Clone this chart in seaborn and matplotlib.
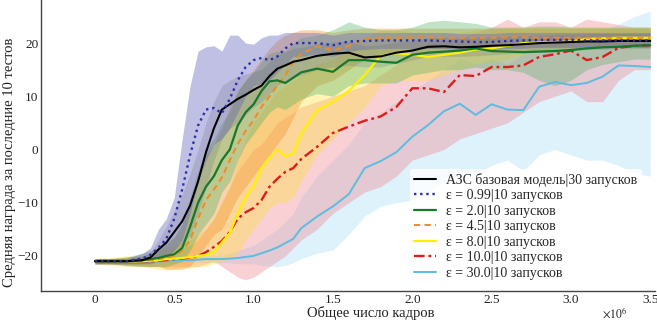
import numpy as np
import pandas as pd
import matplotlib
matplotlib.use("Agg")
import matplotlib.pyplot as plt
import seaborn as sns

# ---------------- data (x in millions of frames) ----------------
frames = [0, 0.1, 0.2, 0.3, 0.35, 0.4, 0.45, 0.5, 0.55, 0.6, 0.65, 0.7, 0.75, 0.8, 0.85,
          0.9, 0.95, 1.0, 1.05, 1.1, 1.15, 1.2, 1.25, 1.3, 1.4, 1.5, 1.6, 1.7, 1.8, 1.9,
          2.0, 2.1, 2.2, 2.3, 2.4, 2.5, 2.6, 2.7, 2.8, 2.9, 3.0, 3.1, 3.2, 3.3, 3.4, 3.5]

labels = ["АЗС базовая модель|30 запусков",
          "ε = 0.99|10 запусков",
          "ε = 2.0|10 запусков",
          "ε = 4.5|10 запусков",
          "ε = 8.0|10 запусков",
          "ε = 10.0|10 запусков",
          "ε = 30.0|10 запусков"]

base_mean = [-21, -21, -21, -20.8, -20.3, -18.8, -17.5, -15.5, -13.5, -10.5, -6, -0.5, 4, 7.5, 8.5,
             9.5, 10.3, 11.2, 12, 13.8, 15.2, 15.8, 16.5, 16.8, 17.6, 18, 18.2, 17.3, 17.5, 18.2,
             18.6, 19.3, 19.4, 19.2, 19.3, 19.5, 19.6, 19.8, 20, 20.1, 20.2, 20.3, 20.3, 20.4, 20.4, 20.4]
base_lo = [-21.5, -21.5, -21.5, -21.5, -21.3, -20.5, -20, -19, -18, -16, -12, -7, -2, 2, 4,
           5, 6.5, 8, 9, 10.5, 12, 13, 13.5, 14, 15, 15.5, 15.8, 15.5, 15.5, 16.2,
           16.8, 17.5, 17.5, 17.5, 17.6, 17.8, 18, 18.2, 18.4, 18.5, 18.6, 18.8, 18.8, 19, 19, 19]
base_hi = [-20.5, -20.5, -20.5, -20, -19.3, -17, -14.5, -11.5, -8.5, -4.5, 0, 5, 9, 12, 13,
           13.8, 14.2, 14.6, 15, 16.5, 17.8, 18.3, 19, 19.2, 19.8, 20.2, 20.4, 19.5, 19.7, 20.2,
           20.5, 21, 21.1, 21, 21.1, 21.2, 21.3, 21.4, 21.5, 21.6, 21.7, 21.8, 21.8, 21.8, 21.8, 21.8]

e099_mean = [-21, -21, -21, -20.5, -19.8, -18.5, -16.8, -13, -7.5, -1, 4.5, 7.5, 7.8, 6.8, 9.5,
             13, 15.5, 16.8, 17.2, 16.8, 17.5, 19, 20, 20, 20, 19.6, 20.3, 20.4, 20.5, 20.5,
             20.5, 20.5, 20.4, 20.3, 20.2, 20.2, 20.4, 20.5, 20.6, 20.6, 20.6, 20.5, 20.5, 20.5, 20.5, 20.5]
e099_lo = [-21.5, -21.5, -21.5, -21.5, -21.5, -21, -20.5, -19, -17, -12, -6, -2, 1, 2, 4,
           7, 10, 12, 12.5, 13, 14.5, 16, 17.5, 17.5, 18, 17.5, 18.5, 18.8, 19, 19,
           19, 19, 19, 18.8, 18.8, 18.8, 19, 19, 19.2, 19.2, 19.2, 19.2, 19.2, 19.2, 19.2, 19.2]
e099_hi = [-20.5, -20.5, -20.5, -19.5, -18.5, -15, -13, -9, 2, 12, 18.5, 19.3, 19.5, 18.5, 21.5,
           21.5, 20, 19.8, 21, 21.5, 21.5, 22, 22, 22, 22, 21.5, 22, 22, 22, 22,
           22, 22, 22, 21.8, 21.8, 21.8, 22, 22, 22, 22, 22, 22, 22, 22, 22, 22]

e20_mean = [-21, -21, -21, -20.8, -20.6, -20.4, -20, -19.7, -18.5, -14.5, -10, -7, -5, -2, 0,
            4.5, 7, 8.5, 11, 12.8, 13, 12.5, 13.5, 14.5, 15.2, 14.6, 16.8, 16.8, 16.5, 16.3,
            17.8, 18.2, 18.4, 18.6, 19, 18.5, 18.4, 18.3, 18.4, 18.5, 18.7, 19, 19.2, 19.3, 19.5, 19.6]
e20_lo = [-21.5, -21.5, -21.8, -22, -22, -22, -22, -21.5, -21, -19, -16, -14, -12, -8, -6,
          -2, 1, 3, 5, 7, 8, 7.5, 8.5, 9.5, 10.5, 10, 12, 12.5, 12.5, 12.5,
          14, 14.5, 15, 15, 15.5, 15, 15, 14.5, 13, 12, 13, 15, 16, 16.5, 17, 17]
e20_hi = [-20.5, -20.5, -20.2, -19.5, -19, -18.5, -17.5, -16.5, -14, -9, -4, 0, 2, 5, 7,
          11, 13, 14.5, 16.5, 18, 18.5, 18.5, 20, 21, 21.5, 22.5, 24, 23, 22.5, 22.5,
          23, 24, 24.3, 24, 23.7, 23, 23, 23, 23.2, 23.2, 23, 23, 23, 23, 23, 23]

e45_mean = [-21, -21, -21, -20.9, -20.8, -20.6, -20.4, -20, -19, -17, -13, -9.5, -7.5, -5.3, -2,
            1, 3.5, 5.5, 8, 10, 12, 14, 16.5, 18, 19.4, 18.6, 19.5, 20.8, 21, 21,
            21.1, 21.1, 21, 21, 21, 21, 21.1, 21.1, 21, 21, 21, 21, 21, 21, 21, 21]
e45_lo = [-21.5, -21.5, -21.8, -22, -22, -22, -22.5, -22.5, -22.5, -22, -20, -18, -16, -15, -12,
          -9, -7, -5, -3, -1, 1, 3, 6, 9, 12, 13, 15, 17, 18, 18.5,
          19, 19, 19, 19, 19, 19.2, 19.2, 19.2, 19.2, 19.2, 19.2, 19.2, 19.2, 19.2, 19.2, 19.2]
e45_hi = [-20.5, -20.5, -20.2, -20, -19.5, -19, -18, -16.5, -14, -10, -5, -1, 1, 4, 8,
          11, 13, 15, 17, 19, 20.5, 21.5, 22, 22.5, 22.5, 22, 22.5, 22.8, 22.8, 22.8,
          22.8, 22.8, 22.8, 22.8, 22.8, 22.8, 22.8, 22.8, 22.8, 22.8, 22.8, 22.8, 22.8, 22.8, 22.8, 22.8]

e80_mean = [-21, -21, -21, -21, -20.9, -20.8, -20.6, -20.5, -20.4, -20.2, -20, -19.8, -19.3, -17.5, -15.7,
            -12, -9, -6.8, -3.5, -1.5, 0, -1.3, -0.7, 3, 7.4, 9, 11, 14, 17.6, 18.1,
            17.8, 17.4, 17.8, 18.2, 18.8, 19, 19.5, 20, 20.1, 20.2, 20.3, 20.8, 20.9, 21, 21, 21]
e80_lo = [-21.5, -21.8, -22, -22, -22.3, -22.5, -22.6, -22.5, -22.3, -22.3, -22, -22, -21.5, -21, -20.5,
          -19.5, -17, -15, -13, -11, -10, -10, -9, -6, -1, 2, 5, 8, 12, 13,
          13, 13, 14, 15, 16, 16.5, 17, 18, 18.5, 18.5, 19, 19.5, 19.5, 19.5, 19.5, 19.5]
e80_hi = [-20.5, -20.3, -20, -20, -19.5, -19, -18.5, -18, -17.5, -17, -16, -15, -13, -10, -7,
          -2, 2, 5, 7, 9, 11, 12, 13, 14, 16, 17, 19, 21, 22.5, 22.5,
          22, 22, 22, 22, 22.5, 22.5, 23, 23, 23, 23, 23, 23, 23, 23, 23, 23]

e100_mean = [-21, -21, -21, -21, -21, -20.9, -20.8, -20.6, -20.5, -20.3, -20, -19.3, -18.3, -17.2, -15.5,
             -13, -11.8, -11, -9.5, -7, -5.5, -4.2, -3.5, -1.8, 0.5, 3.1, 4.3, 5.4, 6.2, 8,
             11.5, 11.5, 10.8, 14, 13.8, 15.5, 15.5, 15.8, 17.4, 17.9, 18.6, 16.8, 17.4, 19.1, 19.5, 19.6]
e100_lo = [-21.5, -21.5, -21.5, -21.8, -22, -22, -22, -22, -22, -22, -22, -21.5, -21, -22, -23,
           -24, -24.5, -24, -23, -22, -21, -20, -18.5, -17, -15, -12, -10, -8, -7, -5,
           -2, -1, 0, 2, 3, 4, 5, 7, 9, 10, 11, 9, 9, 13, 15, 15]
e100_hi = [-20.5, -20.5, -20.5, -20.2, -20, -19.8, -19.5, -19, -18.5, -18, -17, -15, -13, -10, -7,
           -4, -2, 0, 1, 3, 5, 6, 7, 8, 9, 10, 11, 12, 14, 16,
           19, 20, 20.5, 21, 22, 23, 24.5, 23, 24, 24, 23, 24.5, 24, 23.5, 23, 23]

e300_mean = [-21, -21, -21, -21, -21, -21, -20.9, -20.9, -20.8, -20.8, -20.7, -20.6, -20.6, -20.6, -20.5,
             -20.4, -20.2, -20, -19.5, -19, -18.4, -17.6, -16.8, -14.8, -12.6, -10.7, -8.4, -3.5, -2.2, -0.5,
             2.4, 4.6, 7.2, 8.6, 6.5, 8.5, 7.5, 7.4, 11.8, 12.7, 12.1, 12.5, 13.7, 15.8, 15.7, 15.5]
e300_lo = [-21.3, -21.3, -21.3, -21.3, -21.3, -21.3, -21.3, -21.3, -21.3, -21.3, -21.3, -21.3, -21.3, -21.3, -21.3,
           -21.5, -21.5, -21.5, -21.8, -22, -22, -21.8, -21.3, -20.5, -19.5, -18.9, -16, -12.5, -10.7, -10,
           -9.5, -8, -6, -5, -4.5, -3, -2, -4, -1, 0, -1, -2, -2, -3, -4.5, -5]
e300_hi = [-20.7, -20.7, -20.7, -20.7, -20.7, -20.7, -20.5, -20.5, -20.3, -20.3, -20.1, -20, -20, -19.8, -19.5,
           -19, -18.5, -18, -17, -16, -15, -13.5, -12, -9, -5, -2, 1, 5, 7, 9,
           11, 13, 15, 17, 16, 17, 16, 18, 20, 21, 21, 21.5, 22.5, 23.5, 25, 26]

x_ticks = [0, 0.5, 1.0, 1.5, 2.0, 2.5, 3.0, 3.5]
x_ticklabels = ["0", "0.5", "1.0", "1.5", "2.0", "2.5", "3.0", "3.5"]
y_ticks = [-20, -10, 0, 10, 20]
y_ticklabels = ["\u221220", "\u221210", "0", "10", "20"]

means = [base_mean, e099_mean, e20_mean, e45_mean, e80_mean, e100_mean, e300_mean]
los = [base_lo, e099_lo, e20_lo, e45_lo, e80_lo, e100_lo, e300_lo]
his = [base_hi, e099_hi, e20_hi, e45_hi, e80_hi, e100_hi, e300_hi]

# ---------------- style ----------------
line_colors = ["#000000", "#2e2eaa", "#17782c", "#f08c1e", "#fff000", "#dd1c1c", "#5bbde0"]
band_colors = ["#606078", "#6a6ac0", "#4fb060", "#f39a38", "#ffe030", "#f08890", "#bfe6f8"]
band_alpha = [0.2, 0.42, 0.35, 0.42, 0.35, 0.38, 0.5]
line_styles = ["-", (0, (1, 1.6)), "-", (0, (3.2, 2.2)), "-", (0, (4.5, 1.6, 1.2, 1.6)), "-"]
line_widths = [1.5, 1.7, 1.6, 1.4, 1.6, 1.7, 1.4]

sns.set_theme(style="white")
plt.rcParams["font.family"] = ["Liberation Serif", "DejaVu Serif"]
plt.rcParams["mathtext.fontset"] = "stix"

fig = plt.figure(figsize=(6.57, 3.22), dpi=100)
ax = fig.add_axes([41 / 657, 31 / 322, (655 - 41) / 657, 291 / 322])

# bands
for i in [6, 5, 4, 3, 2, 1, 0]:
    ax.fill_between(frames, los[i], his[i], color=band_colors[i], alpha=band_alpha[i], linewidth=0)

# lines
order = [6, 5, 4, 3, 2, 0, 1]
handles = {}
for i in order:
    df = pd.DataFrame({"x": frames, "y": means[i]})
    sns.lineplot(data=df, x="x", y="y", ax=ax, color=line_colors[i], linewidth=line_widths[i],
                 label=labels[i], legend=False)
    ln = ax.get_lines()[-1]
    ln.set_linestyle(line_styles[i])
    handles[i] = ln

ax.set_xlim(-0.34, 3.53)
ax.set_ylim(-26.6, 28.1)
ax.set_xticks(x_ticks)
ax.set_xticklabels(x_ticklabels)
ax.set_yticks(y_ticks)
ax.set_yticklabels(y_ticklabels)
ax.tick_params(direction="in", length=4, width=0.8, colors="#333333", labelsize=9.5,
               labelcolor="#222222", pad=2)
for s in ["top", "right"]:
    ax.spines[s].set_visible(False)
for s in ["left", "bottom"]:
    ax.spines[s].set_color("#444444")
    ax.spines[s].set_linewidth(1.0)

ax.set_xlabel("Общее число кадров", fontsize=10.5, color="#222222")
ax.set_ylabel("Средняя награда за последние 10 тестов", fontsize=10.5, color="#222222")
ax.xaxis.set_label_coords((371 - 41) / 614, -(306 - 291) / 291)
ax.yaxis.set_label_coords((16 - 41) / 614, 1 - 162 / 291)
fig.text(602 / 657, 1 - 313 / 322, r"$\times10^6$", fontsize=8.5, color="#222222",
         ha="left", va="center")

leg = ax.legend([handles[i] for i in range(7)], labels, loc="lower right",
                bbox_to_anchor=(0.985, 0.01), fontsize=10, frameon=True, framealpha=0.8,
                edgecolor="none", facecolor="white", handlelength=1.6, handletextpad=0.7,
                labelspacing=0.18, borderpad=0.3, borderaxespad=0.3)

fig.savefig("out.png", dpi=100)
